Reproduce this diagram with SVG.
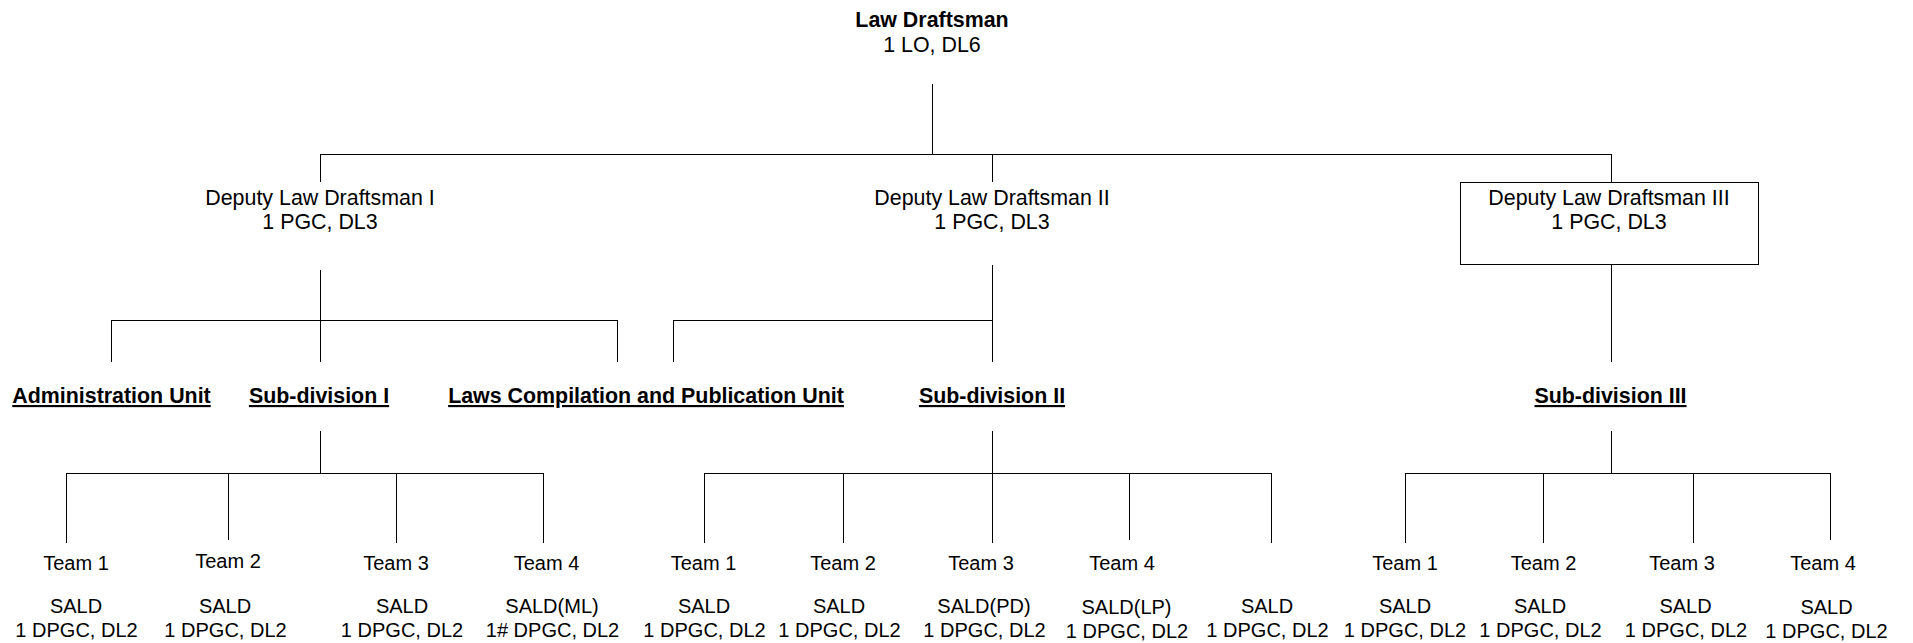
<svg xmlns="http://www.w3.org/2000/svg" width="1913" height="643" viewBox="0 0 1913 643">
<style>
text{font-family:"Liberation Sans",Arial,sans-serif;fill:#000;text-anchor:middle}
.t{font-size:21.4px}
.b{font-size:21.4px;font-weight:bold}
.h{font-size:21.4px;font-weight:bold;text-decoration:underline}
.s{font-size:20px}
.ln{fill:none;stroke:#000;stroke-width:1;shape-rendering:crispEdges}
.box{fill:#fff;stroke:#000;stroke-width:1;shape-rendering:crispEdges}
</style>
<rect width="1913" height="643" fill="#fff"/>
<g id="connectors" class="ln">
<path d="M932.5 84V154.5M320.5 154.5H1611.5M320.5 154V182M992.5 154V182M1611.5 154V182"/>
<path d="M320.5 270V320.5M111.5 320.5H617.5M111.5 320V362M320.5 320V362M617.5 320V362"/>
<path d="M992.5 265V320.5M673.5 320.5H992.5M673.5 320V362M992.5 320V362"/>
<path d="M1611.5 264V362"/>
<path d="M320.5 431V473.5M66.5 473.5H543.5M66.5 473V543M228.5 473V540M396.5 473V543M543.5 473V543"/>
<path d="M992.5 431V473.5M704.5 473.5H1271.5M704.5 473V543M843.5 473V543M992.5 473V543M1129.5 473V540M1271.5 473V543"/>
<path d="M1611.5 431V473.5M1405.5 473.5H1830.5M1405.5 473V543M1543.5 473V543M1693.5 473V543M1830.5 473V540"/>
</g>
<g id="law-draftsman"><text class="b" x="932" y="27">Law Draftsman</text><text class="t" x="932" y="52">1 LO, DL6</text></g>
<g id="dld1"><text class="t" x="320" y="205">Deputy Law Draftsman I</text><text class="t" x="320" y="229">1 PGC, DL3</text></g>
<g id="dld2"><text class="t" x="992" y="205">Deputy Law Draftsman II</text><text class="t" x="992" y="229">1 PGC, DL3</text></g>
<g id="dld3"><rect class="box" x="1460.5" y="182.5" width="298" height="82"/><text class="t" x="1609" y="205">Deputy Law Draftsman III</text><text class="t" x="1609" y="229">1 PGC, DL3</text></g>
<g id="admin-unit"><text class="h" x="111.5" y="403">Administration Unit</text></g>
<g id="sub1"><text class="h" x="319" y="403">Sub-division I</text></g>
<g id="lcp-unit"><text class="h" x="646" y="403">Laws Compilation and Publication Unit</text></g>
<g id="sub2"><text class="h" x="992" y="403">Sub-division II</text></g>
<g id="sub3"><text class="h" x="1610.5" y="403">Sub-division III</text></g>
<g id="s1-team1"><text class="s" x="76" y="570">Team 1</text><text class="s" x="76" y="613">SALD</text><text class="s" x="76.5" y="637">1 DPGC, DL2</text></g>
<g id="s1-team2"><text class="s" x="228" y="568">Team 2</text><text class="s" x="225" y="613">SALD</text><text class="s" x="225.5" y="637">1 DPGC, DL2</text></g>
<g id="s1-team3"><text class="s" x="396" y="570">Team 3</text><text class="s" x="402" y="613">SALD</text><text class="s" x="402" y="637">1 DPGC, DL2</text></g>
<g id="s1-team4"><text class="s" x="546.5" y="570">Team 4</text><text class="s" x="552" y="613">SALD(ML)</text><text class="s" x="552.5" y="637">1# DPGC, DL2</text></g>
<g id="s2-team1"><text class="s" x="703.5" y="570">Team 1</text><text class="s" x="704" y="613">SALD</text><text class="s" x="704.5" y="637">1 DPGC, DL2</text></g>
<g id="s2-team2"><text class="s" x="843" y="570">Team 2</text><text class="s" x="839" y="613">SALD</text><text class="s" x="839.5" y="637">1 DPGC, DL2</text></g>
<g id="s2-team3"><text class="s" x="981" y="570">Team 3</text><text class="s" x="984" y="613">SALD(PD)</text><text class="s" x="984.5" y="637">1 DPGC, DL2</text></g>
<g id="s2-team4"><text class="s" x="1122" y="570">Team 4</text><text class="s" x="1126.5" y="614">SALD(LP)</text><text class="s" x="1127" y="638">1 DPGC, DL2</text></g>
<g id="s2-team5"><text class="s" x="1267" y="613">SALD</text><text class="s" x="1267.5" y="637">1 DPGC, DL2</text></g>
<g id="s3-team1"><text class="s" x="1405" y="570">Team 1</text><text class="s" x="1405" y="613">SALD</text><text class="s" x="1405" y="637">1 DPGC, DL2</text></g>
<g id="s3-team2"><text class="s" x="1543.5" y="570">Team 2</text><text class="s" x="1540" y="613">SALD</text><text class="s" x="1540.5" y="637">1 DPGC, DL2</text></g>
<g id="s3-team3"><text class="s" x="1682" y="570">Team 3</text><text class="s" x="1685.5" y="613">SALD</text><text class="s" x="1686" y="637">1 DPGC, DL2</text></g>
<g id="s3-team4"><text class="s" x="1823" y="570">Team 4</text><text class="s" x="1826.5" y="614">SALD</text><text class="s" x="1826.5" y="638">1 DPGC, DL2</text></g>
</svg>
